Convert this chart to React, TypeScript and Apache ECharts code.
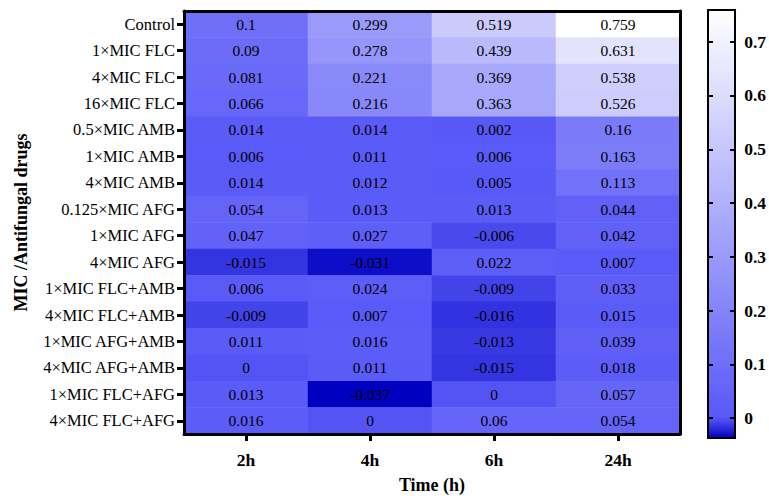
import React, { useEffect, useRef } from "react";
import * as echarts from "echarts";

const drugs = [
  "Control",
  "1×MIC FLC",
  "4×MIC FLC",
  "16×MIC FLC",
  "0.5×MIC AMB",
  "1×MIC AMB",
  "4×MIC AMB",
  "0.125×MIC AFG",
  "1×MIC AFG",
  "4×MIC AFG",
  "1×MIC FLC+AMB",
  "4×MIC FLC+AMB",
  "1×MIC AFG+AMB",
  "4×MIC AFG+AMB",
  "1×MIC FLC+AFG",
  "4×MIC FLC+AFG",
];
const times = ["2h", "4h", "6h", "24h"];
const h2 = [0.1, 0.09, 0.081, 0.066, 0.014, 0.006, 0.014, 0.054, 0.047, -0.015, 0.006, -0.009, 0.011, 0, 0.013, 0.016];
const h4 = [0.299, 0.278, 0.221, 0.216, 0.014, 0.011, 0.012, 0.013, 0.027, -0.031, 0.024, 0.007, 0.016, 0.011, -0.037, 0];
const h6 = [0.519, 0.439, 0.369, 0.363, 0.002, 0.006, 0.005, 0.013, -0.006, 0.022, -0.009, -0.016, -0.013, -0.015, 0, 0.06];
const h24 = [0.759, 0.631, 0.538, 0.526, 0.16, 0.163, 0.113, 0.044, 0.042, 0.007, 0.033, 0.015, 0.039, 0.018, 0.057, 0.054];
const columns = [h2, h4, h6, h24];
const scaleMin = -0.037;
const scaleMax = 0.759;
const barTicks = [0, 0.1, 0.2, 0.3, 0.4, 0.5, 0.6, 0.7];

const FONT = "Liberation Serif";

function colorAt(v: number): string {
  let r: number, b: number;
  if (v < 0) {
    const t = (v - scaleMin) / (0 - scaleMin);
    r = 88 * t;
    b = 192 + 56 * t;
  } else {
    const t = v / scaleMax;
    r = 88 + 167 * t;
    b = 248 + 7 * t;
  }
  const R = Math.round(Math.max(0, Math.min(255, r)));
  const B = Math.round(Math.max(0, Math.min(255, b)));
  const hex = (n: number) => n.toString(16).padStart(2, "0");
  return "#" + hex(R) + hex(R) + hex(B);
}

export default function App() {
  const ref = useRef<HTMLDivElement>(null);
  useEffect(() => {
    if (!ref.current) return;
    const chart = echarts.init(ref.current, undefined, { renderer: "svg" });
    const data: any[] = [];
    columns.forEach((col, xi) => {
      col.forEach((v, yi) => data.push([xi, yi, v]));
    });
    const stops: string[] = [];
    const N = 80;
    for (let i = 0; i <= N; i++) stops.push(colorAt(scaleMin + ((scaleMax - scaleMin) * i) / N));

    const lineStyle = { color: "#000", width: 3 };
    const cbLine = { color: "#000", width: 2 };
    chart.setOption({
      animation: false,
      textStyle: { fontFamily: FONT },
      grid: [
        { left: 184, right: 89, top: 11, bottom: 61 },
        { left: 708, top: 10, width: 28, height: 428 },
      ],
      xAxis: [
        {
          type: "category",
          data: times,
          gridIndex: 0,
          position: "bottom",
          z: 10,
          axisLine: { show: true, onZero: false, lineStyle },
          axisTick: { show: true, alignWithLabel: true, length: 7, lineStyle: { color: "#000", width: 3 } },
          axisLabel: { color: "#000", fontFamily: FONT, fontWeight: "bold", fontSize: 17.5, margin: 17 },
          name: "Time (h)",
          nameLocation: "middle",
          nameGap: 42,
          nameTextStyle: { color: "#000", fontFamily: FONT, fontWeight: "bold", fontSize: 18 },
          splitLine: { show: false },
        },
        {
          type: "category",
          data: times,
          gridIndex: 0,
          position: "top",
          z: 10,
          axisLine: { show: true, onZero: false, lineStyle },
          axisTick: { show: false },
          axisLabel: { show: false },
          splitLine: { show: false },
        },
        {
          type: "value",
          gridIndex: 1,
          position: "bottom",
          min: 0,
          max: 1,
          z: 10,
          axisLine: { show: true, onZero: false, lineStyle: cbLine },
          axisTick: { show: false },
          axisLabel: { show: false },
          splitLine: { show: false },
        },
        {
          type: "value",
          gridIndex: 1,
          position: "top",
          min: 0,
          max: 1,
          z: 10,
          axisLine: { show: true, onZero: false, lineStyle: cbLine },
          axisTick: { show: false },
          axisLabel: { show: false },
          splitLine: { show: false },
        },
      ],
      yAxis: [
        {
          type: "category",
          data: drugs,
          inverse: true,
          gridIndex: 0,
          position: "left",
          z: 10,
          axisLine: { show: true, onZero: false, lineStyle },
          axisTick: { show: true, alignWithLabel: true, length: 7, lineStyle: { color: "#000", width: 3 } },
          axisLabel: { color: "#000", fontFamily: FONT, fontSize: 16.5, margin: 9 },
          name: "MIC /Antifungal drugs",
          nameLocation: "middle",
          nameGap: 154,
          nameTextStyle: { color: "#000", fontFamily: FONT, fontWeight: "bold", fontSize: 18 },
          splitLine: { show: false },
        },
        {
          type: "category",
          data: drugs,
          inverse: true,
          gridIndex: 0,
          position: "right",
          z: 10,
          axisLine: { show: true, onZero: false, lineStyle },
          axisTick: { show: false },
          axisLabel: { show: false },
          splitLine: { show: false },
        },
        {
          type: "value",
          gridIndex: 1,
          position: "left",
          min: scaleMin,
          max: scaleMax,
          z: 10,
          axisLine: { show: true, onZero: false, lineStyle: cbLine },
          axisTick: { show: true, inside: true, length: 5, customValues: barTicks, lineStyle: { color: "#000", width: 2 } },
          axisLabel: { show: false },
          splitLine: { show: false },
        },
        {
          type: "value",
          gridIndex: 1,
          position: "right",
          min: scaleMin,
          max: scaleMax,
          z: 10,
          axisLine: { show: true, onZero: false, lineStyle: cbLine },
          axisTick: { show: true, inside: true, length: 5, customValues: barTicks, lineStyle: { color: "#000", width: 2 } },
          axisLabel: {
            show: true,
            customValues: barTicks,
            color: "#000",
            fontFamily: FONT,
            fontWeight: "bold",
            fontSize: 17.5,
            margin: 9,
            formatter: (v: number) => String(Math.round(v * 10) / 10),
          },
          splitLine: { show: false },
        },
      ],
      visualMap: {
        type: "continuous",
        min: scaleMin,
        max: scaleMax,
        seriesIndex: 0,
        calculable: false,
        hoverLink: false,
        orient: "vertical",
        left: 708,
        top: 10,
        padding: 0,
        itemWidth: 28,
        itemHeight: 428,
        inRange: { color: stops },
      },
      series: [
        {
          type: "heatmap",
          xAxisIndex: 0,
          yAxisIndex: 0,
          data,
          label: {
            show: true,
            color: "#000",
            fontFamily: FONT,
            fontSize: 15.5,
            formatter: (p: any) => String(p.value[2]),
          },
          itemStyle: { borderWidth: 0 },
          emphasis: { disabled: true },
        },
      ],
    });
    return () => chart.dispose();
  }, []);
  return (
    <div
      ref={ref}
      style={{ position: "fixed", left: 0, top: 0, width: 769, height: 499, background: "#fff" }}
    />
  );
}
